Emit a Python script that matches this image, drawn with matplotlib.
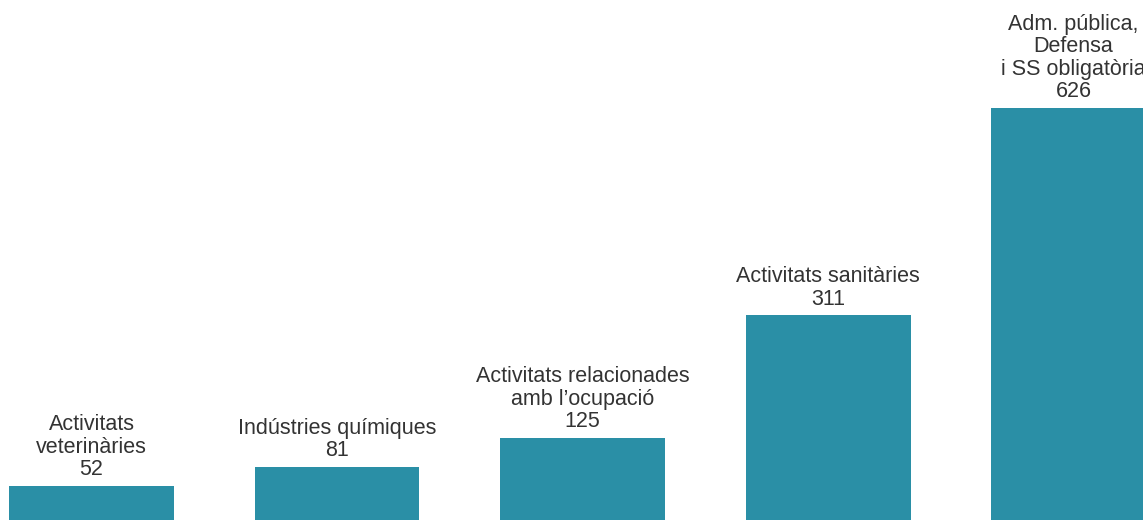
import matplotlib
matplotlib.use("Agg")
import matplotlib.pyplot as plt

# ---------------------------------------------------------------------------
# Data
# ---------------------------------------------------------------------------
categories = [
    "Activitats\nveterinàries",
    "Indústries químiques",
    "Activitats relacionades\namb l\u2019ocupació",
    "Activitats sanitàries",
    "Adm. pública,\nDefensa\ni SS obligatòria",
]
values = [52, 81, 125, 311, 626]

BAR_COLOUR = "#2a8fa6"
TEXT_COLOUR = "#333333"

plt.rcParams["font.family"] = ["Liberation Sans", "DejaVu Sans"]

fig = plt.figure(figsize=(11.43, 5.2), dpi=100)
ax = fig.add_axes([0, 0, 1, 1])

xs = list(range(len(values)))
ax.bar(xs, values, width=0.672, color=BAR_COLOUR)

for x, cat, val in zip(xs, categories, values):
    ax.annotate(
        f"{cat}\n{val}",
        (x, val),
        textcoords="offset points",
        xytext=(0, 4),
        ha="center", va="bottom",
        fontsize=15.5, color=TEXT_COLOUR,
        linespacing=1.1,
        annotation_clip=False,
    )

ax.set_xlim(-0.3727, 4.283)
ax.set_ylim(0, 790)
ax.axis("off")

fig.savefig("out.png", dpi=100)
